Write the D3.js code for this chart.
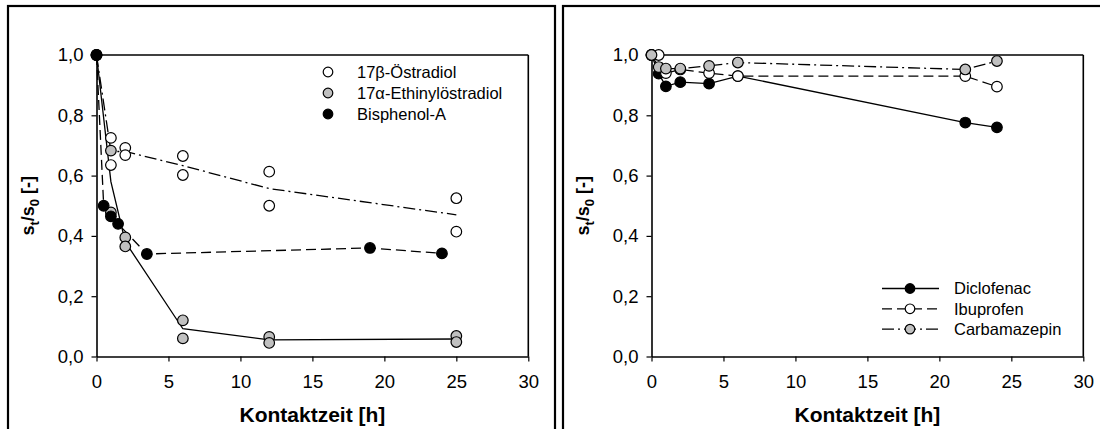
<!DOCTYPE html>
<html><head><meta charset="utf-8">
<script src="https://cdn.jsdelivr.net/npm/d3@7"></script>
<style>body{margin:0;background:#fff}svg{display:block;font-family:"Liberation Sans",Arial,sans-serif}</style>
</head><body><svg id="c" width="1100" height="429"></svg>
<script>
// ---- Left panel data ----
const estradiolX = [0,1,1,2,2,6,6,12,12,25,25];
const estradiolY = [1.0,0.725,0.635,0.692,0.668,0.665,0.602,0.613,0.50,0.525,0.414];
const estradiolLineX = [0,1,2,6,12,25];
const estradiolLineY = [1.0,0.68,0.68,0.633,0.557,0.47];
const ethinylX = [0,1,1,2,2,6,6,12,12,25,25];
const ethinylY = [1.0,0.683,0.478,0.395,0.365,0.12,0.06,0.065,0.045,0.068,0.048];
const ethinylLineX = [0,1,2,6,12,25];
const ethinylLineY = [1.0,0.58,0.38,0.092,0.055,0.058];
const bisphenolX = [0,0.5,1,1.5,3.5,19,24];
const bisphenolY = [1.0,0.50,0.465,0.44,0.34,0.36,0.342];
// ---- Right panel data ----
const timeR = [0,0.5,1,2,4,6,21.8,24];
const diclofenacY = [1.0,0.938,0.896,0.91,0.905,0.93,0.776,0.76];
const ibuprofenY = [1.0,1.0,0.94,0.952,0.94,0.93,0.93,0.895];
const carbamazepinY = [1.0,0.96,0.955,0.955,0.964,0.975,0.952,0.98];
const xTicks = [0,5,10,15,20,25,30];
const yTicks = [0,0.2,0.4,0.6,0.8,1.0];
const legendLeft = ["17\u03B2-Östradiol","17\u03B1-Ethinylöstradiol","Bisphenol-A"];
const legendRight = ["Diclofenac","Ibuprofen","Carbamazepin"];

const svg = d3.select("#c");
const GRAY = "#c0c0c0";
const fmt = d => d3.format(".1f")(d).replace(".", ",");

function panel(ox){
  const g = svg.append("g");
  g.append("rect").attr("x",ox+8).attr("y",6).attr("width",547).attr("height",440)
    .attr("fill","none").attr("stroke","#000").attr("stroke-width",2.2);
  const x = d3.scaleLinear().domain([0,30]).range([ox+96.5, ox+528.3]);
  const y = d3.scaleLinear().domain([0,1]).range([356.5, 55]);
  const xa = g.append("g").attr("transform",`translate(0,${y(0)})`)
    .call(d3.axisBottom(x).tickValues(xTicks).tickSize(5).tickPadding(13).tickSizeOuter(0));
  const ya = g.append("g").attr("transform",`translate(${x(0)},0)`)
    .call(d3.axisLeft(y).tickValues(yTicks).tickFormat(fmt).tickSize(5).tickPadding(8).tickSizeOuter(0));
  [xa,ya].forEach(a=>{
    a.select(".domain").attr("stroke-width",1.6);
    a.selectAll(".tick line").attr("stroke-width",1.2);
    a.selectAll("text").attr("font-size",18.5).attr("fill","#000").attr("font-family","Liberation Sans, Arial, sans-serif");
  });
  // top & right frame
  g.append("line").attr("x1",x(0)).attr("x2",x(30)).attr("y1",y(1)).attr("y2",y(1)).attr("stroke","#000").attr("stroke-width",1.6);
  g.append("line").attr("x1",x(30)).attr("x2",x(30)).attr("y1",y(1)).attr("y2",y(0)).attr("stroke","#000").attr("stroke-width",1.6);
  // axis titles
  g.append("text").attr("x",(x(0)+x(30))/2).attr("y",422).attr("text-anchor","middle")
    .attr("font-weight","bold").attr("font-size",21).text("Kontaktzeit [h]");
  const yl = g.append("text").attr("transform",`translate(${ox+34},${(y(0)+y(1))/2}) rotate(-90)`)
    .attr("text-anchor","middle").attr("font-weight","bold").attr("font-size",18);
  yl.append("tspan").text("s");
  yl.append("tspan").attr("dy",5).attr("font-size",13).text("t");
  yl.append("tspan").attr("dy",-5).text("/s");
  yl.append("tspan").attr("dy",5).attr("font-size",13).text("0");
  yl.append("tspan").attr("dy",-5).text(" [-]");
  return {g,x,y};
}

function drawLine(P, xs, ys, dash){
  const line = d3.line().x(d=>P.x(d[0])).y(d=>P.y(d[1]));
  P.g.append("path").datum(d3.zip(xs,ys)).attr("d",line).attr("fill","none")
    .attr("stroke","#000").attr("stroke-width",1.3).attr("stroke-dasharray",dash);
}
function drawPts(P, xs, ys, fill){
  P.g.append("g").selectAll("circle").data(d3.zip(xs,ys)).join("circle")
    .attr("cx",d=>P.x(d[0])).attr("cy",d=>P.y(d[1])).attr("r",5.3)
    .attr("fill",fill).attr("stroke","#000").attr("stroke-width",1.2);
}

// ---- Left panel ----
const L = panel(0);
drawLine(L, estradiolLineX, estradiolLineY, "12,4,2,4");
drawLine(L, ethinylLineX, ethinylLineY, null);
drawLine(L, bisphenolX, bisphenolY, "10,5");
drawPts(L, estradiolX, estradiolY, "#fff");
drawPts(L, ethinylX, ethinylY, GRAY);
drawPts(L, bisphenolX, bisphenolY, "#000");
const lfills = ["#fff", GRAY, "#000"];
legendLeft.forEach((t,i)=>{
  const yy = 72 + i*21;
  L.g.append("circle").attr("cx",328).attr("cy",yy).attr("r",4.8).attr("fill",lfills[i]).attr("stroke","#000").attr("stroke-width",1.2);
  L.g.append("text").attr("x",357).attr("y",yy+5.8).attr("font-size",16.5).text(t);
});

// ---- Right panel ----
const R = panel(555);
const rdash = [null, "10,5", "12,4,2,4"];
const rys = [diclofenacY, ibuprofenY, carbamazepinY];
rys.forEach((ys,i)=>drawLine(R, timeR, ys, rdash[i]));
rys.forEach((ys,i)=>drawPts(R, timeR, ys, lfills[[2,0,1][i]]));
const rfills = ["#000","#fff",GRAY];
legendRight.forEach((t,i)=>{
  const yy = 288.5 + i*20.3;
  R.g.append("line").attr("x1",882).attr("x2",939).attr("y1",yy).attr("y2",yy)
    .attr("stroke","#000").attr("stroke-width",1.3).attr("stroke-dasharray",rdash[i]);
  R.g.append("circle").attr("cx",910).attr("cy",yy).attr("r",4.8).attr("fill",rfills[i]).attr("stroke","#000").attr("stroke-width",1.2);
  R.g.append("text").attr("x",954).attr("y",yy+5.8).attr("font-size",16.5).text(t);
});
</script></body></html>
